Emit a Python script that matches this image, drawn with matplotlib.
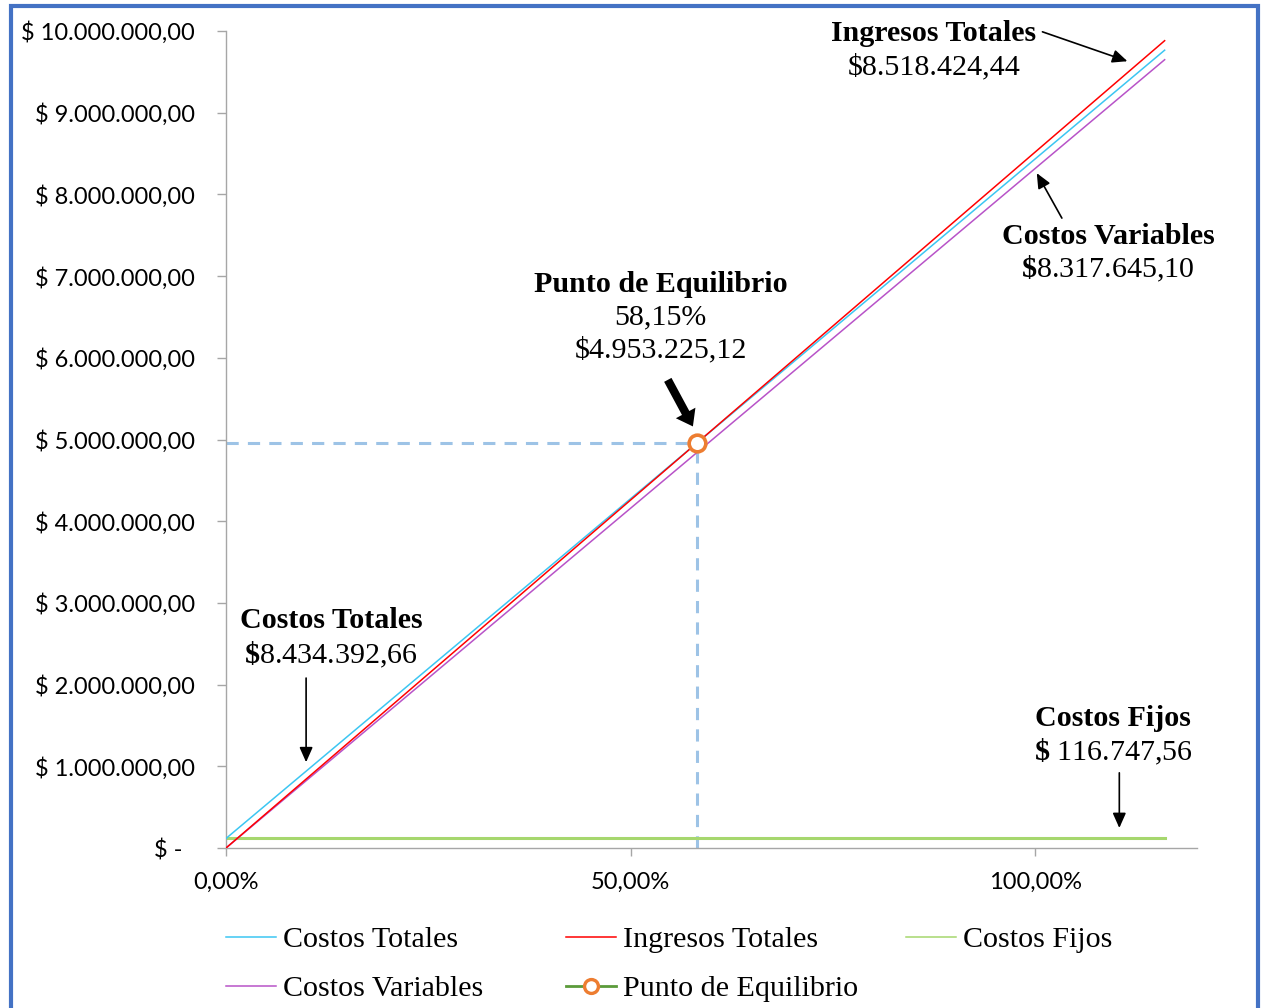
import matplotlib
matplotlib.use("Agg")
import matplotlib.pyplot as plt
from matplotlib.lines import Line2D
from matplotlib.patches import Rectangle

# ---- data ----
niveles = [0.0, 0.5815, 1.0, 1.16]
costos_totales = [116747.56, 4953225.12, 8434392.66, 9765215.88]
ingresos_totales = [0.0, 4953225.12, 8518424.44, 9881372.35]
costos_fijos = [116747.56, 116747.56, 116747.56, 116747.56]
costos_variables = [0.0, 4836477.56, 8317645.10, 9648468.32]
pe_x = [0.5815]
pe_y = [4953225.12]

y_ticks = [0, 1e6, 2e6, 3e6, 4e6, 5e6, 6e6, 7e6, 8e6, 9e6, 10e6]
y_labels = ["$ -  ", "$ 1.000.000,00", "$ 2.000.000,00", "$ 3.000.000,00",
            "$ 4.000.000,00", "$ 5.000.000,00", "$ 6.000.000,00",
            "$ 7.000.000,00", "$ 8.000.000,00", "$ 9.000.000,00",
            "$ 10.000.000,00"]
x_ticks = [0.0, 0.5, 1.0]
x_labels = ["0,00%", "50,00%", "100,00%"]

plt.rcParams['mathtext.fontset'] = 'custom'
plt.rcParams['mathtext.rm'] = 'Liberation Serif'
plt.rcParams['mathtext.bf'] = 'Liberation Serif:bold'

W, H = 1261, 1008
fig = plt.figure(figsize=(W / 100, H / 100), dpi=100)
ax = fig.add_axes([226 / W, 1 - 848 / H, (1197 - 226) / W, (848 - 31) / H])

c_ct = "#3CC6F2"
c_it = "#FF0000"
c_cf = "#A6D76E"
c_cv = "#B853C8"
c_dash = "#9DC3E6"
c_pe = "#ED7D31"
c_pe_line = "#5B9B3A"

# dashed guide lines
ax.plot([0, pe_x[0]], [pe_y[0], pe_y[0]], color=c_dash, lw=2.2,
        dashes=(4, 3), zorder=1)
ax.plot([pe_x[0], pe_x[0]], [0, pe_y[0]], color=c_dash, lw=2.2,
        dashes=(4, 3), zorder=1)

ax.plot(niveles, costos_fijos, color=c_cf, lw=2.2, zorder=2)
ax.plot(niveles, costos_variables, color=c_cv, lw=1.1, zorder=3)
ax.plot(niveles, costos_totales, color=c_ct, lw=1.1, zorder=3)
ax.plot(niveles, ingresos_totales, color=c_it, lw=1.1, zorder=4)
ax.plot(pe_x, pe_y, linestyle="none", marker="o", ms=12, mew=2.6,
        mec=c_pe, mfc="white", zorder=6)

ax.set_xlim(0, 1.2)
ax.set_ylim(0, 10e6)
ax.set_yticks(y_ticks)
ax.set_yticklabels(y_labels)
ax.set_xticks(x_ticks)
ax.set_xticklabels(x_labels)
for s in ["top", "right"]:
    ax.spines[s].set_visible(False)
for s in ["left", "bottom"]:
    ax.spines[s].set_color("#A6A6A6")
    ax.spines[s].set_linewidth(1.0)
ax.tick_params(axis="y", length=6.5, width=1.0, color="#A6A6A6", pad=16,
               labelsize=17)
ax.tick_params(axis="x", length=6, width=1.0, color="#A6A6A6", pad=11,
               labelsize=17)
for lab in ax.get_xticklabels() + ax.get_yticklabels():
    lab.set_fontfamily("Lato")
    lab.set_color("black")

serif = "Liberation Serif"
fs = 21.6


def label(x, y1, y2, title, value):
    ax.text(x, y1, title, ha="center", va="center", fontsize=fs,
            fontweight="bold", family=serif)
    ax.text(x, y2, value, ha="center", va="center", fontsize=fs, family=serif)


def arrow(x0, y0, x1, y1, lw=1.2, head=(0.5, 0.35), style=None):
    if style is None:
        style = "-|>,head_length=%s,head_width=%s" % head
    ax.annotate("", xy=(x1, y1), xytext=(x0, y0),
                arrowprops=dict(arrowstyle=style, color="black", lw=lw,
                                shrinkA=0, shrinkB=0), zorder=7)


label(0.875, 9.975e6, 9.56e6, "Ingresos Totales", "$8.518.424,44")
arrow(1.009, 9.99e6, 1.114, 9.63e6, head=(0.9, 0.4))

label(1.090, 7.49e6, 7.09e6, "Costos Variables", r"$\mathbf{\$}$8.317.645,10")
arrow(1.033, 7.71e6, 1.002, 8.26e6, head=(0.9, 0.4))

ax.text(0.537, 6.90e6, "Punto de Equilibrio", ha="center", va="center",
        fontsize=fs, fontweight="bold", family=serif)
ax.text(0.537, 6.49e6, "58,15%", ha="center", va="center", fontsize=fs,
        family=serif)
ax.text(0.537, 6.10e6, "$4.953.225,12", ha="center", va="center", fontsize=fs,
        family=serif)
arrow(0.546, 5.73e6, 0.577, 5.16e6, lw=0,
      style="simple,head_length=1.1,head_width=1.6,tail_width=0.6")

label(0.130, 2.78e6, 2.36e6, "Costos Totales", r"$\mathbf{\$}$8.434.392,66")
arrow(0.099, 2.08e6, 0.099, 1.05e6, head=(0.9, 0.4))

label(1.096, 1.59e6, 1.175e6, "Costos Fijos", r"$\mathbf{\$}$ 116.747,56")
arrow(1.104, 0.92e6, 1.104, 0.245e6, head=(0.9, 0.4))

# legends (three columns)
def mk(color, marker=None):
    if marker:
        return Line2D([], [], color=color, lw=2.0, marker="o", ms=10, mew=2.4,
                      mec=c_pe, mfc="white")
    return Line2D([], [], color=color, lw=1.1)


leg_kw = dict(frameon=False, loc="upper left", borderpad=0, borderaxespad=0,
              handlelength=1.65, handletextpad=0.24, labelspacing=0.75,
              prop={"family": serif, "size": fs},
              bbox_transform=fig.transFigure)
cols = [
    (226, [mk(c_ct), mk(c_cv)], ["Costos Totales", "Costos Variables"]),
    (566, [mk(c_it), mk(c_pe_line, True)], ["Ingresos Totales", "Punto de Equilibrio"]),
    (906, [mk(c_cf)], ["Costos Fijos"]),
]
for px, hs, ls in cols:
    fig.legend(hs, ls, bbox_to_anchor=(px / W, 1 - 926 / H), **leg_kw)

# figure border
fig.patches.append(Rectangle((11 / W, -0.05), (1247 / W), 1 - 6 / H + 0.05,
                             transform=fig.transFigure, fill=False,
                             edgecolor="#4472C4", lw=3, clip_on=False))

fig.savefig("out.png", dpi=100)
